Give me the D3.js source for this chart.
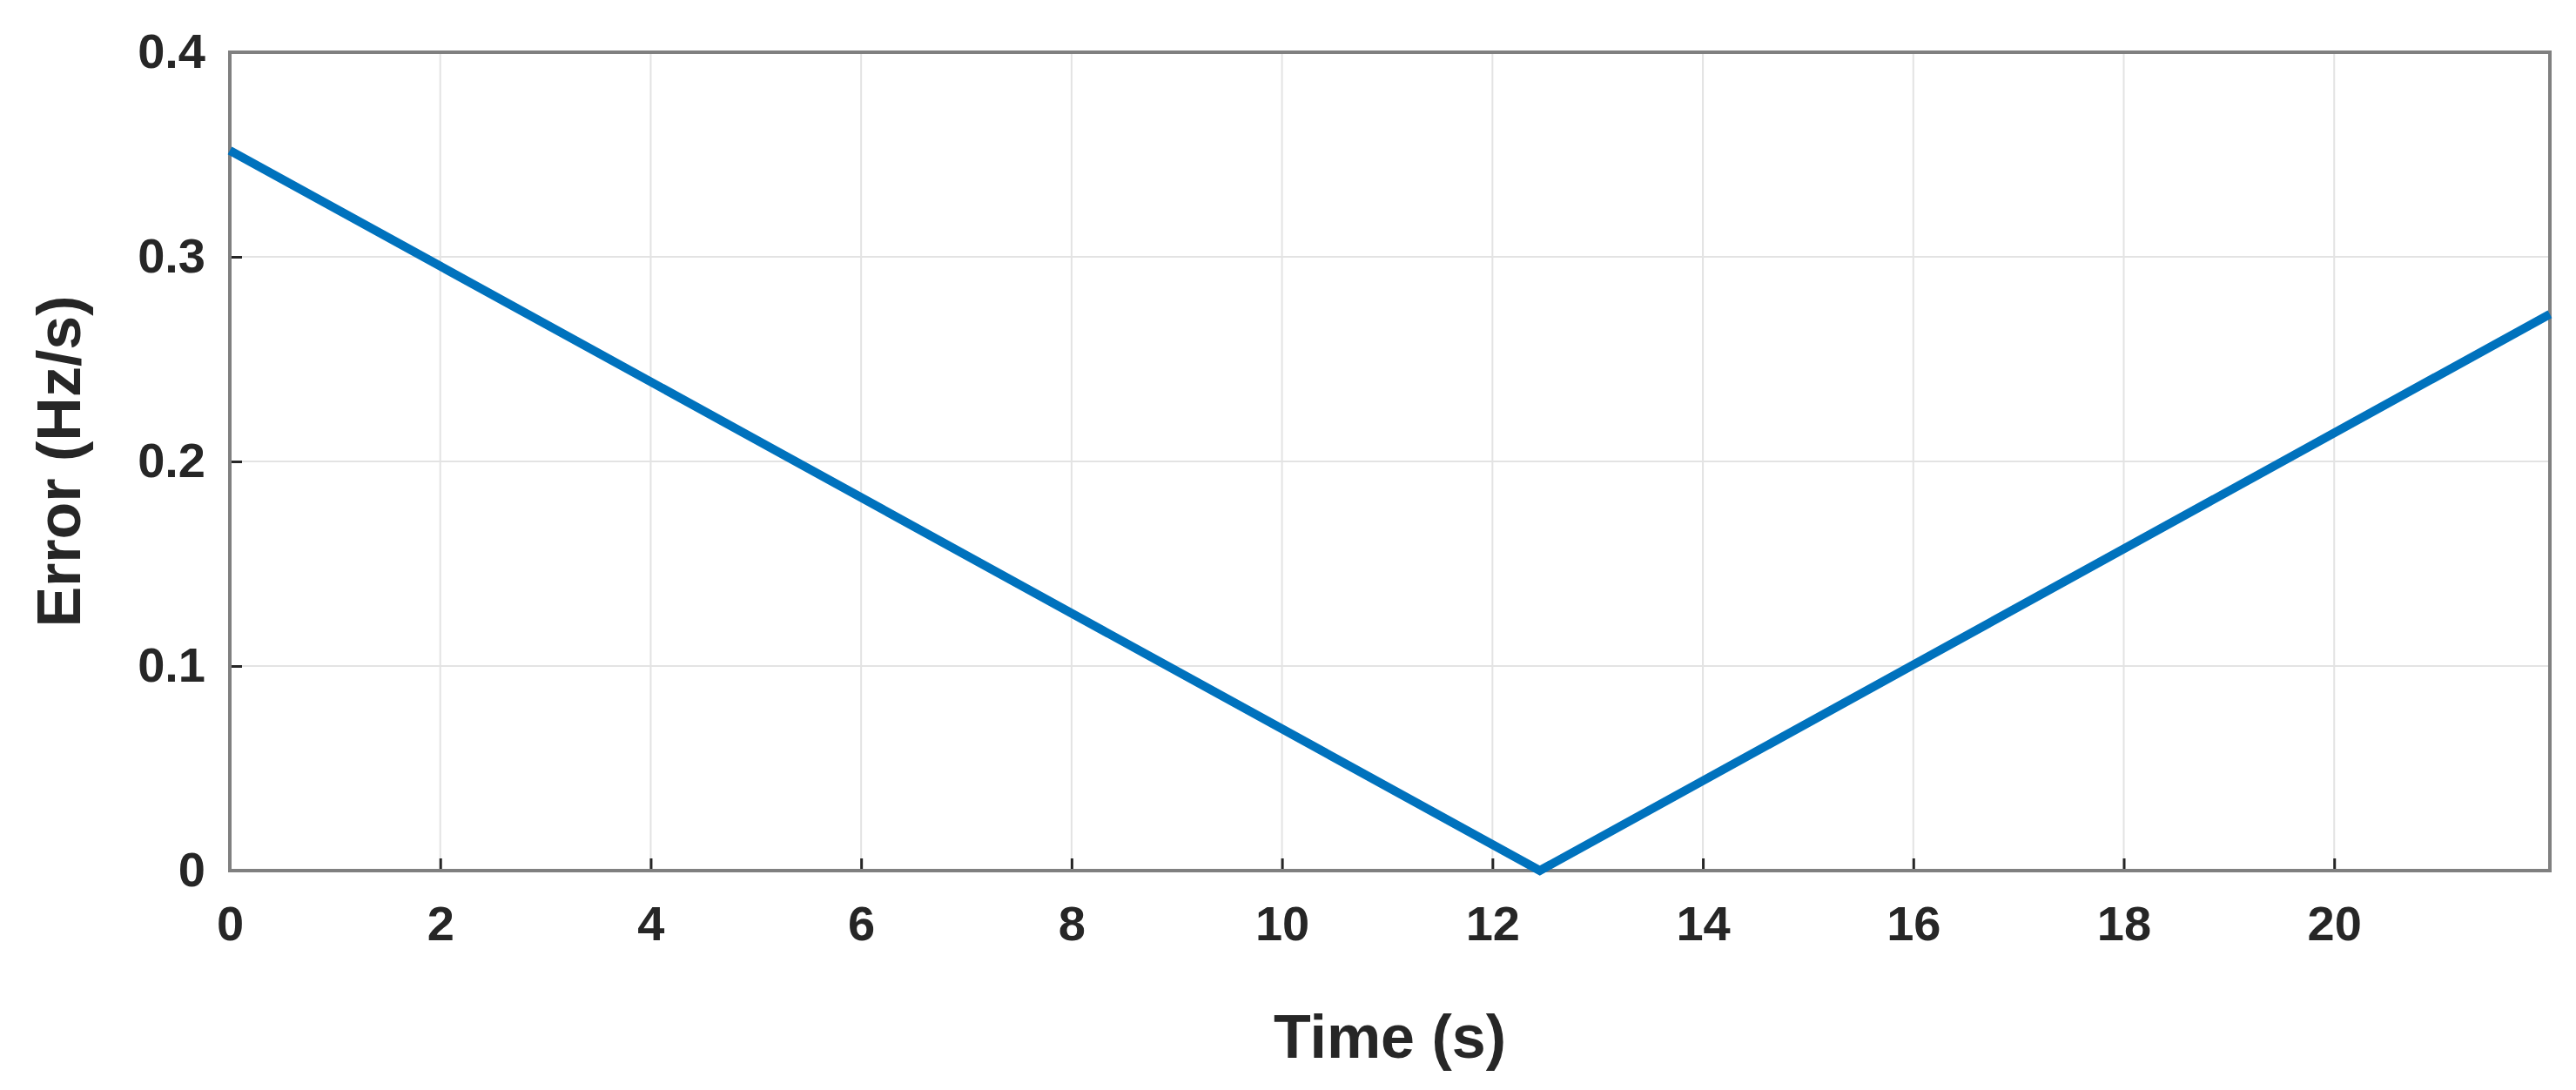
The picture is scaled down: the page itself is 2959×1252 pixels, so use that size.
<!DOCTYPE html><html><head><script src="https://cdn.jsdelivr.net/npm/d3@7"></script>
<style>body{margin:0;background:#fff}</style></head><body><svg id="c" width="2959" height="1252"></svg>
<script>
const timeS=[0,12.45,22.05];
const errorHz=[0.352,0,0.272];
const xTicks=[0,2,4,6,8,10,12,14,16,18,20];
const yTicks=[0,0.1,0.2,0.3,0.4];
const m={l:264,r:30,t:60,b:252};
const W=2959,H=1252;
const svg=d3.select("#c");
const x=d3.scaleLinear().domain([0,22.05]).range([m.l,W-m.r]);
const y=d3.scaleLinear().domain([0,0.4]).range([H-m.b,m.t]);
const g=svg.append("g");
g.selectAll(".gx").data(xTicks).enter().append("line").attr("x1",d=>x(d)).attr("x2",d=>x(d)).attr("y1",y(0)).attr("y2",y(0.4)).attr("stroke","#e3e3e3").attr("stroke-width",2);
g.selectAll(".gy").data(yTicks).enter().append("line").attr("y1",d=>y(d)).attr("y2",d=>y(d)).attr("x1",x(0)).attr("x2",x(22.05)).attr("stroke","#e3e3e3").attr("stroke-width",2);
const font="'Liberation Sans',Arial,sans-serif";
const ax=svg.append("g").attr("transform",`translate(0,${y(0)})`).call(d3.axisBottom(x).tickValues(xTicks).tickSize(-14).tickPadding(40).tickFormat(d3.format("d")));
const ay=svg.append("g").attr("transform",`translate(${x(0)},0)`).call(d3.axisLeft(y).tickValues(yTicks).tickSize(-14).tickPadding(28).tickFormat(d=>d===0?"0":d3.format(".1f")(d)));
[ax,ay].forEach(a=>{a.select(".domain").remove();a.selectAll("line").attr("stroke","#262626").attr("stroke-width",3);a.selectAll("text").attr("font-family",font).attr("font-weight","bold").attr("font-size",56).attr("fill","#262626");});
svg.append("rect").attr("x",x(0)).attr("y",y(0.4)).attr("width",x(22.05)-x(0)).attr("height",y(0)-y(0.4)).attr("fill","none").attr("stroke","#808080").attr("stroke-width",4);
svg.append("path").datum(timeS.map((t,i)=>[t,errorHz[i]])).attr("d",d3.line().x(d=>x(d[0])).y(d=>y(d[1]))).attr("fill","none").attr("stroke","#0072BD").attr("stroke-width",10).attr("stroke-linejoin","miter");
svg.append("text").attr("x",(x(0)+x(22.05))/2).attr("y",1215).attr("text-anchor","middle").attr("font-family",font).attr("font-weight","bold").attr("font-size",70).attr("fill","#262626").text("Time (s)");
svg.append("text").attr("transform",`translate(92,${(y(0)+y(0.4))/2}) rotate(-90)`).attr("text-anchor","middle").attr("font-family",font).attr("font-weight","bold").attr("font-size",70).attr("fill","#262626").text("Error (Hz/s)");
</script></body></html>
